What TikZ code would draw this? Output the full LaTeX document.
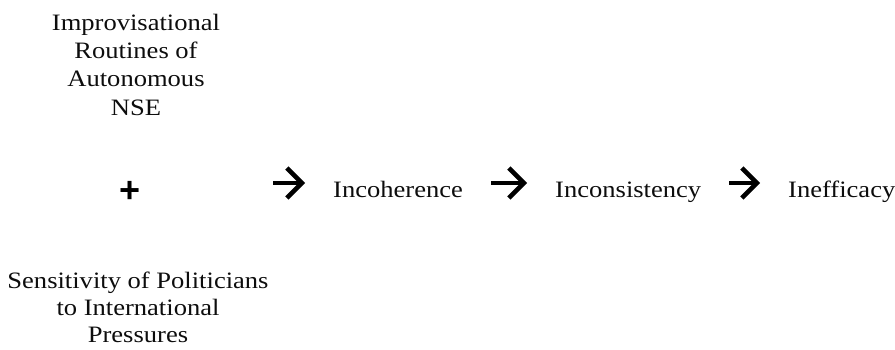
\documentclass[tikz,border=0pt]{standalone}
\usepackage{fontspec}
\setmainfont{Liberation Serif}[FakeStretch=1.13]
\newfontfamily\plusfont{Liberation Sans}
\usetikzlibrary{arrows.meta,positioning}
\definecolor{TextClr}{rgb}{0.05,0.05,0.05}

\begin{document}
\begin{tikzpicture}[x=1pt,y=1pt,
  block/.style={align=center,inner sep=0pt,anchor=base,text=TextClr,
    font=\fontsize{23.5pt}{27.5pt}\selectfont},
  word/.style={inner sep=0pt,anchor=base west,text=TextClr,
    font=\fontsize{23.5pt}{27.5pt}\selectfont,text height=28pt,text depth=0pt},
  chain/.style={line width=4.5pt,shorten <=28pt,shorten >=28pt,
    -{Straight Barb[length=15pt,width=30pt]}}]
\useasboundingbox (0,0) rectangle (895,349);

% the two causes, base = last line
\node[block,font=\fontsize{23.5pt}{28.3pt}\selectfont] (nse) at (136,234) {Improvisational\\Routines of\\Autonomous\\NSE};
\node[inner sep=0pt,anchor=base,font=\plusfont\bfseries\fontsize{36pt}{36pt}\selectfont] (plus) at (130,147) {+};
\node[block,font=\fontsize{23.5pt}{27pt}\selectfont] (pol) at (138,7) {Sensitivity of Politicians\\to International\\Pressures};

\node[word] (incoh) at (333,152) {Incoherence};
\node[word] (incon) at (555,152) {Inconsistency};
\node[word] (ineff) at (788,152) {Inefficacy};

\coordinate (go) at (245,166);
\draw[chain] (go) -- (incoh.west);
\draw[chain] (incoh.east) -- (incon.west);
\draw[chain] (incon.east) -- (ineff.west);

\end{tikzpicture}
\end{document}
